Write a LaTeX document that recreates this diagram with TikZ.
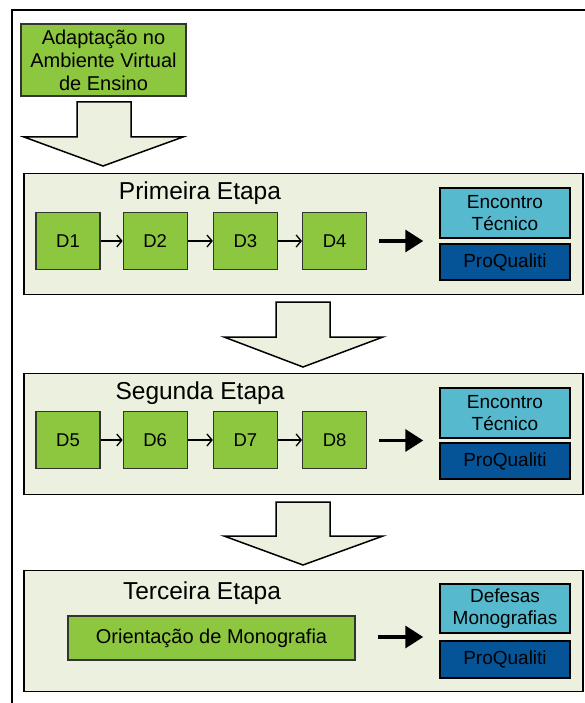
\documentclass[tikz,border=0pt]{standalone}
\usepackage{fontspec}
\setmainfont{Liberation Sans}
\usetikzlibrary{positioning,calc,arrows.meta}
\definecolor{leafgreen}{RGB}{141,198,63}
\definecolor{stagebg}{RGB}{235,241,222}
\definecolor{skyblue}{RGB}{86,185,206}
\definecolor{deepblue}{RGB}{5,84,152}

\begin{document}
\begin{tikzpicture}[x=1pt,y=-1pt,
		stagebox/.style={draw=black,line width=1.5pt,fill=stagebg,minimum width=559pt,minimum height=121pt,inner sep=0pt},
		greenbox/.style={draw=black!80,line width=1.2pt,fill=leafgreen,text=black,inner sep=0pt,font=\fontsize{20}{23}\selectfont,align=center},
		dbox/.style={greenbox,minimum width=64pt,minimum height=57pt,font=\fontsize{18.5}{21}\selectfont},
		infobox/.style={draw=black,line width=1.5pt,fill=skyblue,text=black,minimum width=130pt,inner sep=0pt,font=\fontsize{19}{22}\selectfont,align=center},
		pqbox/.style={draw=black,line width=1.5pt,fill=deepblue,text=black,minimum width=130pt,minimum height=36pt,inner sep=0pt,font=\fontsize{19}{22}\selectfont},
		title/.style={font=\fontsize{24.5}{28}\selectfont,inner sep=0pt},
		steparrow/.style={line width=1.3pt,-{Straight Barb[length=5pt,width=12pt,line width=1.3pt]}},
		bigarrow/.style={line width=3.5pt,-{Triangle[length=18pt,width=22pt]},shorten <=12pt,shorten >=16pt},
		bigdown/.style={draw=black,line width=1.5pt,fill=stagebg,line join=miter}]
	\useasboundingbox (0,0) rectangle (585,703);
	% outer frame
	\draw[line width=2.5pt] (12,703) -- (12,10) -- (585,10);

	\node[greenbox,minimum width=165pt,minimum height=72pt] (ava) at (103.5,60) {Adaptação no\\Ambiente Virtual\\de Ensino};
	\draw[bigdown] (77,102) -- (131,102) -- (131,137) -- (183,137) -- (103,166) -- (24,137) -- (77,137) -- cycle;

	% primeira etapa
	\node[stagebox] (st1) at (303.5,234) {};
	\node[title] (t1) at (200,193) {Primeira Etapa};
	\node[dbox] (d1) at (68,241) {D1};
	\node[dbox,right=22pt of d1] (d2) {D2};
	\node[dbox,right=25pt of d2] (d3) {D3};
	\node[dbox,right=24pt of d3] (d4) {D4};
	\node[infobox,minimum height=50pt] (enc1) at (505,213) {Encontro\\Técnico};
	\node[pqbox] (pq1) at (505,262) {ProQualiti};
	\coordinate (j1) at ($(enc1.south west)!0.5!(pq1.north west)$);
	\draw[steparrow] (d1) -- (d2);
	\draw[steparrow] (d2) -- (d3);
	\draw[steparrow] (d3) -- (d4);
	\draw[bigarrow] (d4.east |- j1) -- (j1);

	\draw[bigdown] (276,302) -- (330,302) -- (330,337) -- (383,337) -- (303,367) -- (224,337) -- (276,337) -- cycle;

	% segunda etapa
	\node[stagebox] (st2) at (303.5,434) {};
	\node[title] (t2) at (200,393) {Segunda Etapa};
	\node[dbox] (d5) at (68,440) {D5};
	\node[dbox,right=22pt of d5] (d6) {D6};
	\node[dbox,right=25pt of d6] (d7) {D7};
	\node[dbox,right=24pt of d7] (d8) {D8};
	\node[infobox,minimum height=50pt] (enc2) at (505,413) {Encontro\\Técnico};
	\node[pqbox] (pq2) at (505,461) {ProQualiti};
	\coordinate (j2) at ($(enc2.south west)!0.5!(pq2.north west)$);
	\draw[steparrow] (d5) -- (d6);
	\draw[steparrow] (d6) -- (d7);
	\draw[steparrow] (d7) -- (d8);
	\draw[bigarrow] (d8.east |- j2) -- (j2);

	\draw[bigdown] (276,502) -- (330,502) -- (330,536) -- (383,536) -- (303,565) -- (224,536) -- (276,536) -- cycle;

	% terceira etapa
	\node[stagebox] (st3) at (303.5,631) {};
	\node[title] (t3) at (202,593) {Terceira Etapa};
	\node[greenbox,minimum width=287pt,minimum height=44pt] (mono) at (211.5,638) {Orientação de Monografia};
	\node[infobox,minimum height=49pt] (def) at (505,608.5) {Defesas\\Monografias};
	\node[pqbox,minimum height=37pt] (pq3) at (505,659.5) {ProQualiti};
	\coordinate (j3) at ($(def.south west)!0.5!(pq3.north west)$);
	\draw[bigarrow,shorten <=22pt] (mono.east |- j3) -- (j3);
\end{tikzpicture}
\end{document}
